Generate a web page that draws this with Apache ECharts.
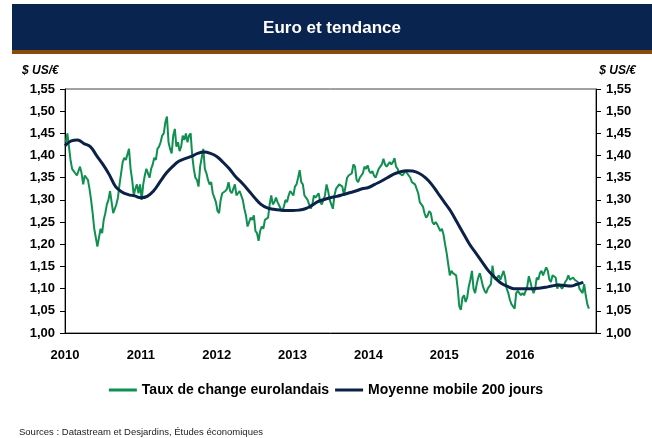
<!DOCTYPE html>
<html>
<head>
<meta charset="utf-8">
<script src="https://cdn.jsdelivr.net/npm/echarts@6/dist/echarts.min.js"></script>
<style>
html,body{margin:0;padding:0;background:#fff;}
#chart{width:652px;height:438px;}
</style>
</head>
<body>
<div id="chart"></div>
<script>
// taux de change EUR/USD, 4 relevés par mois
var eur2010 = [1.43,1.45,1.42,1.39, 1.37,1.365,1.36,1.355, 1.355,1.375,1.36,1.335, 1.355,1.35,1.345,1.325,
	1.30,1.27,1.235,1.235, 1.195,1.215,1.235,1.225, 1.255,1.27,1.29,1.30, 1.32,1.295,1.27,1.27,
	1.29,1.305,1.335,1.36, 1.385,1.395,1.39,1.39, 1.415,1.37,1.345,1.31, 1.325,1.335,1.315,1.335];
var eur2011 = [1.30,1.335,1.355,1.37, 1.36,1.35,1.37,1.38, 1.395,1.39,1.415,1.42, 1.43,1.445,1.45,1.475,
	1.488,1.43,1.415,1.405, 1.445,1.46,1.42,1.43, 1.41,1.42,1.445,1.435, 1.45,1.43,1.445,1.45,
	1.40,1.37,1.35,1.345, 1.33,1.375,1.395,1.415, 1.37,1.36,1.345,1.335, 1.34,1.315,1.305,1.295];
var eur2012 = [1.275,1.27,1.30,1.315, 1.315,1.32,1.325,1.34, 1.32,1.315,1.325,1.335, 1.31,1.31,1.32,1.32,
	1.30,1.28,1.265,1.24, 1.25,1.26,1.255,1.265, 1.23,1.225,1.208,1.23, 1.24,1.235,1.255,1.255,
	1.26,1.29,1.31,1.29, 1.295,1.305,1.295,1.295, 1.28,1.275,1.285,1.30, 1.295,1.31,1.32,1.32];
var eur2013 = [1.31,1.33,1.335,1.35, 1.367,1.34,1.335,1.31, 1.305,1.30,1.29,1.28, 1.29,1.31,1.305,1.305,
	1.315,1.295,1.29,1.30, 1.31,1.335,1.32,1.30, 1.29,1.28,1.31,1.325, 1.325,1.335,1.335,1.33,
	1.31,1.33,1.35,1.355, 1.355,1.36,1.38,1.375, 1.345,1.34,1.35,1.355, 1.36,1.375,1.37,1.378];
var eur2014 = [1.365,1.36,1.365,1.355, 1.35,1.36,1.37,1.375, 1.38,1.393,1.38,1.375, 1.38,1.385,1.38,1.385,
	1.394,1.375,1.37,1.36, 1.36,1.355,1.36,1.365, 1.36,1.36,1.35,1.34, 1.34,1.335,1.325,1.315,
	1.295,1.29,1.285,1.27, 1.26,1.265,1.275,1.27, 1.25,1.245,1.25,1.245, 1.245,1.23,1.235,1.222];
var eur2015 = [1.20,1.18,1.155,1.13, 1.14,1.135,1.135,1.13, 1.10,1.06,1.052,1.08, 1.085,1.07,1.08,1.105,
	1.12,1.14,1.10,1.09, 1.11,1.125,1.135,1.12, 1.105,1.095,1.09,1.10, 1.10,1.11,1.152,1.125,
	1.12,1.125,1.13,1.12, 1.12,1.14,1.125,1.10, 1.09,1.075,1.065,1.06, 1.055,1.09,1.095,1.09];
var eur2016 = [1.085,1.09,1.085,1.085, 1.105,1.128,1.115,1.10, 1.09,1.10,1.125,1.12, 1.135,1.14,1.13,1.13,
	1.148,1.14,1.12,1.115, 1.13,1.13,1.125,1.10, 1.11,1.105,1.10,1.105, 1.115,1.12,1.13,1.12,
	1.12,1.125,1.12,1.12, 1.115,1.10,1.095,1.09, 1.11,1.085,1.065,1.055];
// moyenne mobile 200 jours, une valeur par mois (début de mois)
var mm2010 = [1.422,1.433,1.435,1.427,1.42,1.40,1.38,1.357,1.33,1.318,1.312,1.309];
var mm2011 = [1.305,1.308,1.32,1.34,1.36,1.375,1.387,1.393,1.398,1.405,1.408,1.405];
var mm2012 = [1.398,1.385,1.37,1.352,1.338,1.322,1.305,1.29,1.282,1.279,1.277,1.276];
var mm2013 = [1.276,1.277,1.28,1.287,1.296,1.301,1.305,1.308,1.312,1.316,1.32,1.325];
var mm2014 = [1.328,1.335,1.342,1.35,1.358,1.363,1.366,1.365,1.36,1.35,1.335,1.315];
var mm2015 = [1.295,1.275,1.25,1.225,1.20,1.18,1.16,1.14,1.125,1.112,1.105,1.10];
var mm2016 = [1.10,1.10,1.10,1.101,1.103,1.106,1.108,1.107,1.106,1.11,1.114];
var years = [2010,2011,2012,2013,2014,2015,2016];

var eurYears = [eur2010,eur2011,eur2012,eur2013,eur2014,eur2015,eur2016];
var mmYears = [mm2010,mm2011,mm2012,mm2013,mm2014,mm2015,mm2016];

function toPoints(list, perYear){
	var out = [];
	for (var y = 0; y < list.length; y ++) {
		for (var i = 0; i < list[y].length; i ++) {
			var off = perYear == 12 ? i/12 : (i+0.5)/perYear;
			out.push([years[y] + off, list[y][i]]);
		}
	}
	return out;
}
var eurData = toPoints(eurYears, 48);
var mmData = toPoints(mmYears, 12);

var FONT = '"Liberation Sans", Arial, sans-serif';
var fmtY = function(v){ return v.toFixed(2).replace('.', ','); };

var myChart = echarts.init(document.getElementById('chart'));
var option = {
	animation: false,
	textStyle: {fontFamily: FONT},
	graphic: [
		{type:'rect', shape:{x:12, y:4, width:640, height:46}, style:{fill:'#0a2450'}},
		{type:'rect', shape:{x:12, y:50, width:640, height:4}, style:{fill:'#8a4a0c'}},
		{type:'text', x:332, y:28, style:{text:'Euro et tendance', fill:'#fff', font:'bold 17px ' + FONT, align:'center', verticalAlign:'middle'}},
		{type:'text', x:22, y:71, style:{text:'$ US/€', fill:'#000', font:'italic bold 12px ' + FONT, verticalAlign:'middle'}},
		{type:'text', x:636, y:71, style:{text:'$ US/€', fill:'#000', font:'italic bold 12px ' + FONT, align:'right', verticalAlign:'middle'}},
		{type:'text', x:19, y:432, style:{text:'Sources : Datastream et Desjardins, Études économiques', fill:'#222', font:'9.5px ' + FONT, verticalAlign:'middle'}}
	],
	grid: {left:65, right:56, top:89, bottom:105, show:true, borderColor:'#444', borderWidth:1},
	legend: {
		top: 378, left: 'center',
		itemWidth: 28, itemHeight: 3, itemGap: 6,
		icon: 'rect',
		textStyle: {fontFamily: FONT, fontWeight:'bold', fontSize:14, color:'#000'},
		data: ['Taux de change eurolandais', 'Moyenne mobile 200 jours']
	},
	xAxis: {
		type:'value', min:2010, max:2017, interval:1,
		axisLine:{show:true, lineStyle:{color:'#000', width:1}},
		axisTick:{show:false},
		splitLine:{show:false},
		axisLabel:{margin:16, color:'#000', fontWeight:'bold', fontSize:13, fontFamily:FONT,
			formatter:function(v){ return v == 2017 ? '' : String(v); }}
	},
	yAxis: [
		{type:'value', min:1, max:1.55, interval:0.05, position:'left',
			axisLine:{show:true, lineStyle:{color:'#000'}},
			axisTick:{show:true, length:5, lineStyle:{color:'#000'}},
			splitLine:{show:false},
			axisLabel:{margin:10, color:'#000', fontWeight:'bold', fontSize:13, fontFamily:FONT, formatter:fmtY}},
		{type:'value', min:1, max:1.55, interval:0.05, position:'right',
			axisLine:{show:true, lineStyle:{color:'#000'}},
			axisTick:{show:true, length:5, lineStyle:{color:'#000'}},
			splitLine:{show:false},
			axisLabel:{margin:10, color:'#000', fontWeight:'bold', fontSize:13, fontFamily:FONT, formatter:fmtY}}
	],
	series: [
		{name:'Taux de change eurolandais', type:'line', data:eurData, symbol:'none',
			lineStyle:{color:'#0f8f50', width:2}, itemStyle:{color:'#0f8f50'}},
		{name:'Moyenne mobile 200 jours', type:'line', data:mmData, symbol:'none', smooth:0.4,
			lineStyle:{color:'#0b2148', width:3}, itemStyle:{color:'#0b2148'}}
	]
};
myChart.setOption(option);
</script>
</body>
</html>
